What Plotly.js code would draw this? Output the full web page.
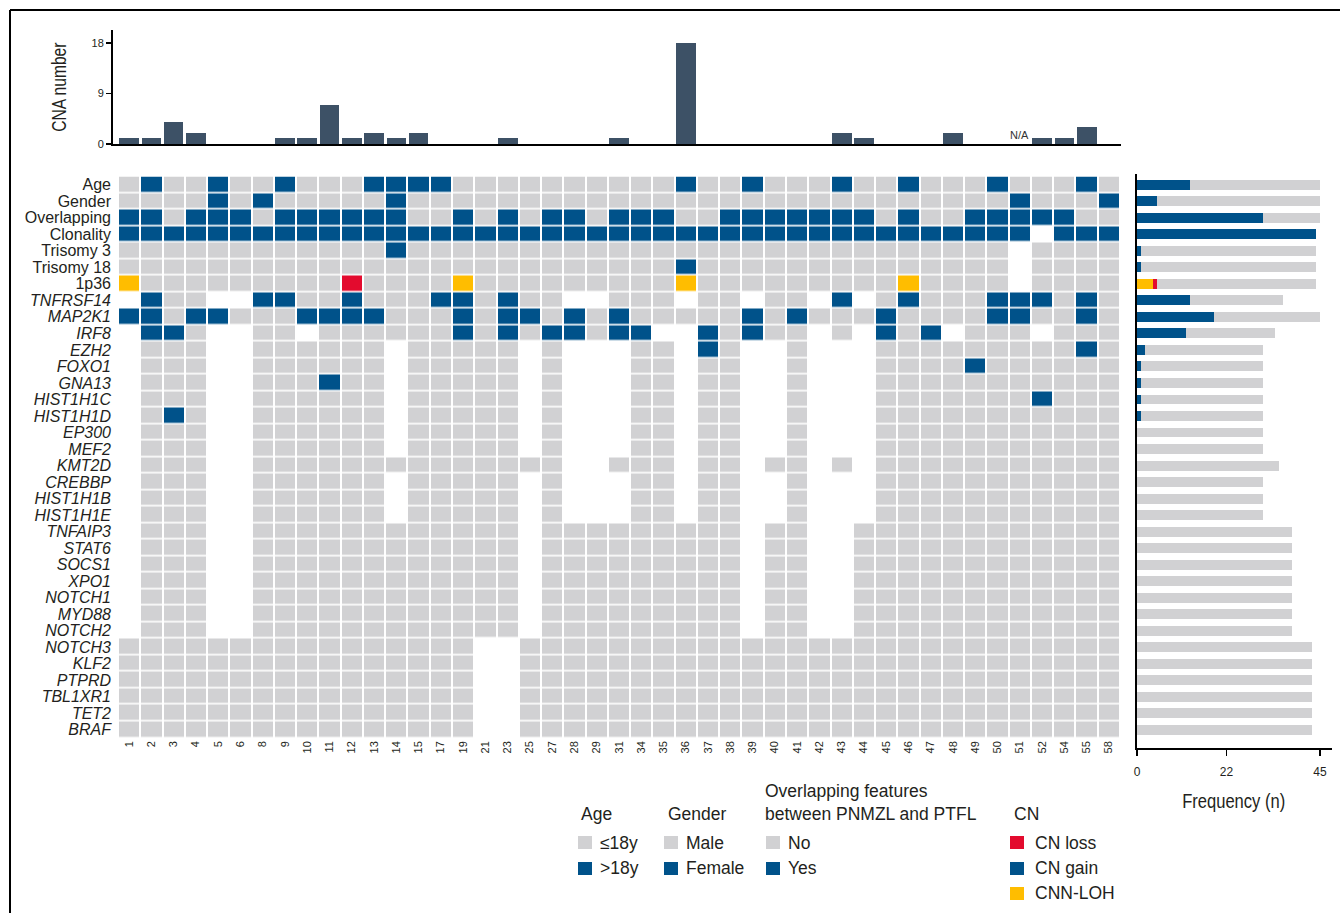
<!DOCTYPE html>
<html><head><meta charset="utf-8">
<script src="https://cdn.plot.ly/plotly-3.0.1.min.js"></script>
<style>html,body{margin:0;padding:0;background:#fff;} #chart{width:1340px;height:913px;}</style>
</head><body><div id="chart"></div>
<script>
// ---------- DATA ----------
const colLabels = ['1','2','3','4','5','6','8','9','10','11','12','13','14','15','17','19','21','23','25','27','28','29','31','34','35','36','37','38','39','40','41','42','43','44','45','46','47','48','49','50','51','52','54','55','58'];

const rowLabels = ['Age','Gender','Overlapping','Clonality','Trisomy 3','Trisomy 18','1p36',
  'TNFRSF14','MAP2K1','IRF8','EZH2','FOXO1','GNA13','HIST1H1C','HIST1H1D','EP300','MEF2','KMT2D',
  'CREBBP','HIST1H1B','HIST1H1E','TNFAIP3','STAT6','SOCS1','XPO1','NOTCH1','MYD88','NOTCH2',
  'NOTCH3','KLF2','PTPRD','TBL1XR1','TET2','BRAF'];
const italicFrom = 7; // gene names are italic

// cell codes per row, one char per patient (columns in colLabels order):
// g = grey (no / <=18y / male / wild type), b = blue (yes / >18y / female / altered / CN gain),
// r = CN loss, y = CNN-LOH, . = not available (blank)
const cellCodes = [
  'gbggb'+'ggbgg'+'gbbbb'+'ggggg'+'ggggg'+'bggbg'+'ggbgg'+'bgggb'+'gggbg', // Age
  'ggggb'+'gbggg'+'ggbgg'+'ggggg'+'ggggg'+'ggggg'+'ggggg'+'ggggg'+'bgggb', // Gender
  'bbgbb'+'bgbbb'+'bbbgg'+'bgbgb'+'bgbbb'+'ggbbb'+'bbbbg'+'bggbb'+'bbbgg', // Overlapping
  'bbbbb'+'bbbbb'+'bbbbb'+'bbbbb'+'bbbbb'+'bbbbb'+'bbbbb'+'bbbbb'+'b.bbb', // Clonality
  'ggggg'+'ggggg'+'ggbgg'+'ggggg'+'ggggg'+'ggggg'+'ggggg'+'ggggg'+'.gggg', // Trisomy 3
  'ggggg'+'ggggg'+'ggggg'+'ggggg'+'ggggg'+'bgggg'+'ggggg'+'ggggg'+'.gggg', // Trisomy 18
  'ygggg'+'ggggg'+'rgggg'+'ygggg'+'ggggg'+'ygggg'+'ggggg'+'ygggg'+'.gggg', // 1p36
  '.bgg.'+'.bbgg'+'bgggb'+'bgbgg'+'..ggg'+'.gg.g'+'g.b.g'+'bgggb'+'bbgbg', // TNFRSF14
  'bbgbb'+'gggbb'+'bbggg'+'bgbbg'+'bgbgg'+'gggbg'+'bgggb'+'ggggb'+'bggbg', // MAP2K1
  '.bbg.'+'.gg.g'+'ggggg'+'bgbgb'+'bgbb.'+'.bgbg'+'g.g.b'+'gb.gg'+'g.ggg', // IRF8
  '.ggg.'+'.gggg'+'gg.gg'+'ggg.g'+'...gg'+'.bg..'+'g...g'+'ggggg'+'gggbg', // EZH2
  '.ggg.'+'.gggg'+'gg.gg'+'ggg.g'+'...gg'+'.gg..'+'g...g'+'gggbg'+'ggggg', // FOXO1
  '.ggg.'+'.gggb'+'gg.gg'+'ggg.g'+'...gg'+'.gg..'+'g...g'+'ggggg'+'ggggg', // GNA13
  '.ggg.'+'.gggg'+'gg.gg'+'ggg.g'+'...gg'+'.gg..'+'g...g'+'ggggg'+'gbggg', // HIST1H1C
  '.gbg.'+'.gggg'+'gg.gg'+'ggg.g'+'...gg'+'.gg..'+'g...g'+'ggggg'+'ggggg', // HIST1H1D
  '.ggg.'+'.gggg'+'gg.gg'+'ggg.g'+'...gg'+'.gg..'+'g...g'+'ggggg'+'ggggg', // EP300
  '.ggg.'+'.gggg'+'gg.gg'+'ggg.g'+'...gg'+'.gg..'+'g...g'+'ggggg'+'ggggg', // MEF2
  '.ggg.'+'.gggg'+'ggggg'+'ggggg'+'..ggg'+'.gg.g'+'g.g.g'+'ggggg'+'ggggg', // KMT2D
  '.ggg.'+'.gggg'+'gg.gg'+'ggg.g'+'...gg'+'.gg..'+'g...g'+'ggggg'+'ggggg', // CREBBP
  '.ggg.'+'.gggg'+'gg.gg'+'ggg.g'+'...gg'+'.gg..'+'g...g'+'ggggg'+'ggggg', // HIST1H1B
  '.ggg.'+'.gggg'+'gg.gg'+'ggg.g'+'...gg'+'.gg..'+'g...g'+'ggggg'+'ggggg', // HIST1H1E
  '.ggg.'+'.gggg'+'ggggg'+'ggg.g'+'ggggg'+'ggg.g'+'g..gg'+'ggggg'+'ggggg', // TNFAIP3
  '.ggg.'+'.gggg'+'ggggg'+'ggg.g'+'ggggg'+'ggg.g'+'g..gg'+'ggggg'+'ggggg', // STAT6
  '.ggg.'+'.gggg'+'ggggg'+'ggg.g'+'ggggg'+'ggg.g'+'g..gg'+'ggggg'+'ggggg', // SOCS1
  '.ggg.'+'.gggg'+'ggggg'+'ggg.g'+'ggggg'+'ggg.g'+'g..gg'+'ggggg'+'ggggg', // XPO1
  '.ggg.'+'.gggg'+'ggggg'+'ggg.g'+'ggggg'+'ggg.g'+'g..gg'+'ggggg'+'ggggg', // NOTCH1
  '.ggg.'+'.gggg'+'ggggg'+'ggg.g'+'ggggg'+'ggg.g'+'g..gg'+'ggggg'+'ggggg', // MYD88
  '.ggg.'+'.gggg'+'ggggg'+'ggg.g'+'ggggg'+'ggg.g'+'g..gg'+'ggggg'+'ggggg', // NOTCH2
  'ggggg'+'ggggg'+'ggggg'+'g..gg'+'ggggg'+'ggggg'+'ggggg'+'ggggg'+'ggggg', // NOTCH3
  'ggggg'+'ggggg'+'ggggg'+'g..gg'+'ggggg'+'ggggg'+'ggggg'+'ggggg'+'ggggg', // KLF2
  'ggggg'+'ggggg'+'ggggg'+'g..gg'+'ggggg'+'ggggg'+'ggggg'+'ggggg'+'ggggg', // PTPRD
  'ggggg'+'ggggg'+'ggggg'+'g..gg'+'ggggg'+'ggggg'+'ggggg'+'ggggg'+'ggggg', // TBL1XR1
  'ggggg'+'ggggg'+'ggggg'+'g..gg'+'ggggg'+'ggggg'+'ggggg'+'ggggg'+'ggggg', // TET2
  'ggggg'+'ggggg'+'ggggg'+'g..gg'+'ggggg'+'ggggg'+'ggggg'+'ggggg'+'ggggg'  // BRAF
];

// CNA number per patient (null = N/A)
const cnaValues = [1,1,4,2,0,0,0,1,1,7,1,2,1,2,0,0,0,1,0,0,0,0,1,0,0,18,0,0,0,0,0,0,2,1,0,0,0,2,0,0,null,1,1,3,0];

// Frequency panel (n): altered (blue), CNN-LOH / CN loss for 1p36, number of evaluable cases
const freqAltered = [13,5,31,44,1,1,0,13,19,12,2,1,1,1,1,0,0,0,0,0,0,0,0,0,0,0,0,0,0,0,0,0,0,0];
const freqLOH     = [0,0,0,0,0,0,4,0,0,0,0,0,0,0,0,0,0,0,0,0,0,0,0,0,0,0,0,0,0,0,0,0,0,0];
const freqLoss    = [0,0,0,0,0,0,1,0,0,0,0,0,0,0,0,0,0,0,0,0,0,0,0,0,0,0,0,0,0,0,0,0,0,0];
const freqTotal   = [45,45,45,44,44,44,44,36,45,34,31,31,31,31,31,31,31,35,31,31,31,38,38,38,38,38,38,38,43,43,43,43,43,43];

// ---------- STYLE ----------
const GRAY='#D1D1D3', BLUE='#00528A', RED='#E30B2E', YELLOW='#FFBD00', BAR='#3D5166', TXT='#231F20';
const FONT='"Liberation Sans", Arial, Helvetica, sans-serif';
const W=1340, H=913;
const fx=p=>p/W, fy=p=>1-p/H;

const codeMap={'.':null,'g':0,'b':1,'r':2,'y':3};
const z = cellCodes.map(s=>s.split('').map(c=>codeMap[c]));
const xIdx = colLabels.map((_,i)=>i);
const yIdx = rowLabels.map((_,i)=>i);

const heat = {
  type:'heatmap', z:z, x:xIdx, y:yIdx, xaxis:'x', yaxis:'y',
  zmin:-0.5, zmax:3.5, showscale:false, xgap:2, ygap:1.6, hoverinfo:'skip',
  colorscale:[[0,GRAY],[0.25,GRAY],[0.25,BLUE],[0.5,BLUE],[0.5,RED],[0.75,RED],[0.75,YELLOW],[1,YELLOW]]
};

const cnaX=[], cnaY=[];
cnaValues.forEach((v,i)=>{ if(v!==null){cnaX.push(i); cnaY.push(v);} });
const topBars = {type:'bar', x:cnaX, y:cnaY, xaxis:'x2', yaxis:'y2', width:0.88,
  marker:{color:BAR}, hoverinfo:'skip'};

const remain = freqTotal.map((t,i)=>t-freqAltered[i]-freqLOH[i]-freqLoss[i]);
const hb = (vals,color)=>({type:'bar', orientation:'h', x:vals, y:yIdx, xaxis:'x3', yaxis:'y3',
  width:0.6, marker:{color:color, line:{width:0}}, hoverinfo:'skip'});
const freqTraces=[hb(freqAltered,BLUE), hb(freqLOH,YELLOW), hb(freqLoss,RED), hb(remain,GRAY)];

// ---------- LAYOUT ----------
const shapes=[
  {type:'line', xref:'paper', yref:'paper', x0:fx(10), x1:1, y0:fy(10), y1:fy(10), line:{color:'#000',width:2}},
  {type:'line', xref:'paper', yref:'paper', x0:fx(10), x1:fx(10), y0:fy(10), y1:0, line:{color:'#000',width:2}}
];
const annotations=[];
function sq(x,y,color){ shapes.push({type:'rect', xref:'paper', yref:'paper', x0:fx(x), x1:fx(x+14), y0:fy(y+13), y1:fy(y), fillcolor:color, line:{width:0}}); }
function txt(t,x,y,size){ annotations.push({text:t, xref:'paper', yref:'paper', x:fx(x), y:fy(y), xanchor:'left', yanchor:'middle', showarrow:false, font:{family:FONT,size:size||17.5,color:TXT}}); }

// legend
txt('Age',579,814); txt('Gender',666,814);
txt('Overlapping features',763,791); txt('between PNMZL and PTFL',763,814);
txt('CN',1012,814);
sq(578,836,GRAY); txt('≤18y',598,843); sq(578,862,BLUE); txt('>18y',598,868);
sq(664,836,GRAY); txt('Male',684,843); sq(664,862,BLUE); txt('Female',684,868);
sq(766,836,GRAY); txt('No',786,843); sq(766,862,BLUE); txt('Yes',786,868);
sq(1010,836,RED); txt('CN loss',1033,843); sq(1010,862,BLUE); txt('CN gain',1033,868);
sq(1010,887,YELLOW); txt('CNN-LOH',1033,893);

// titles
annotations.push({text:'CNA number', xref:'paper', yref:'paper', x:fx(59), y:fy(87), textangle:-90,
  xanchor:'center', yanchor:'middle', showarrow:false, font:{family:FONT,size:19.5,color:TXT}});
annotations.push({text:'Frequency (n)', xref:'paper', yref:'paper', x:fx(1233), y:fy(801),
  xanchor:'center', yanchor:'middle', showarrow:false, font:{family:FONT,size:19.5,color:TXT}});
annotations.push({text:'N/A', xref:'x2', yref:'y2', x:40, y:0, yanchor:'bottom', yshift:1,
  showarrow:false, font:{family:FONT,size:11,color:'#333'}});

const layout = {
  width:W, height:H, margin:{l:0,r:0,t:0,b:0}, paper_bgcolor:'#fff', plot_bgcolor:'rgba(0,0,0,0)',
  showlegend:false, barmode:'stack', bargap:0,
  xaxis:{domain:[fx(118),fx(1120)], range:[-0.5,44.5], anchor:'y', tickmode:'array', tickvals:xIdx, ticktext:colLabels,
    tickangle:-90, ticks:'', showgrid:false, zeroline:false, showline:false,
    tickfont:{family:FONT,size:11,color:TXT}},
  yaxis:{domain:[fy(738),fy(176.5)], range:[33.5,-0.5], anchor:'x', tickmode:'array', tickvals:yIdx,
    ticktext:rowLabels.map((l,i)=>i>=italicFrom?'<i>'+l+'</i>':l), ticks:'', showgrid:false, zeroline:false,
    showline:false, ticklabelstandoff:6, tickfont:{family:FONT,size:16,color:TXT}},
  xaxis2:{domain:[fx(113),fx(1121)], range:[-0.7245,44.54], anchor:'y2', showticklabels:false, ticks:'',
    showgrid:false, zeroline:false, showline:true, linecolor:'#000', linewidth:2},
  yaxis2:{domain:[fy(144),fy(30)], range:[0,20.3], anchor:'x2', tickmode:'array', tickvals:[0,9,18],
    ticks:'outside', ticklen:5, tickwidth:1.5, tickcolor:'#000', showgrid:false, zeroline:false,
    showline:true, linecolor:'#000', linewidth:2, tickfont:{family:FONT,size:11,color:TXT}},
  xaxis3:{domain:[fx(1137),fx(1332)], range:[0,47.95], anchor:'y3', tickmode:'array', tickvals:[0,22,45],
    ticks:'outside', ticklen:6, tickwidth:1.5, tickcolor:'#000', showgrid:false, zeroline:false,
    showline:true, linecolor:'#000', linewidth:2, ticklabelstandoff:6, tickfont:{family:FONT,size:12,color:TXT}},
  yaxis3:{domain:[fy(748),fy(174)], range:[34.1,-0.65], anchor:'x3', showticklabels:false, ticks:'',
    showgrid:false, zeroline:false, showline:true, linecolor:'#000', linewidth:2},
  shapes:shapes, annotations:annotations
};

Plotly.newPlot('chart', [heat, topBars].concat(freqTraces), layout, {displayModeBar:false, staticPlot:true}).then(()=>{
  // the axis titles of the reference use a condensed face: narrow them horizontally
  const narrow={'CNA number':0.8,'Frequency (n)':0.85};
  document.querySelectorAll('text.annotation-text').forEach(t=>{
    const k=narrow[t.getAttribute('data-unformatted')];
    if(k){ t.style.transformBox='fill-box'; t.style.transformOrigin='center'; t.style.transform='scaleX('+k+')'; }
  });
});
</script>
</body></html>
